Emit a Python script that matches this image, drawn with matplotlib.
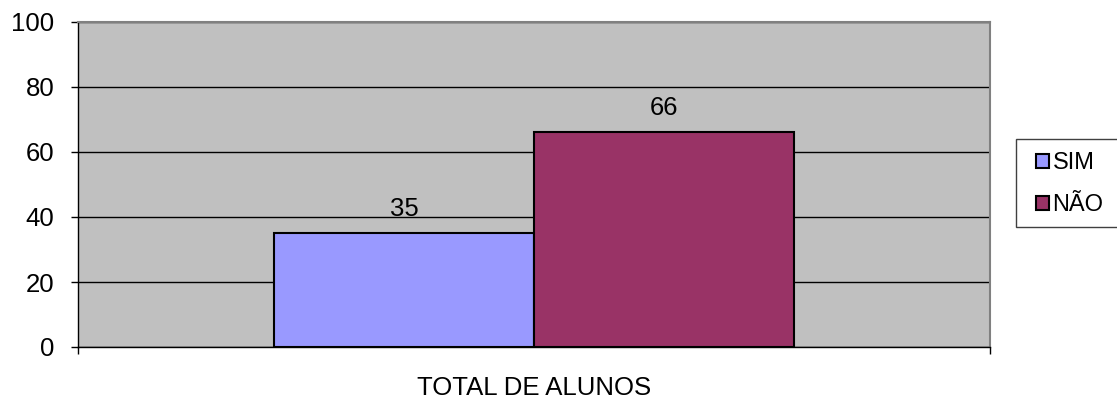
import matplotlib
matplotlib.use("Agg")
import matplotlib.pyplot as plt
from matplotlib.patches import Patch, Rectangle

# data
category = "TOTAL DE ALUNOS"
series = ["SIM", "NÃO"]
values = [35, 66]
colors = ["#9999FF", "#993366"]
yticks = [0, 20, 40, 60, 80, 100]

plt.rcParams["font.family"] = ["Liberation Sans", "DejaVu Sans"]
FS = 18.5
W, H = 1117, 401

fig = plt.figure(figsize=(W / 100, H / 100), dpi=100)
ax = fig.add_axes([78 / W, 54 / H, 912 / W, 325 / H])
ax.set_facecolor("#C0C0C0")

w = 260 / 912
offsets = [-w / 2, w / 2]
for name, v, c, off in zip(series, values, colors, offsets):
    b = ax.bar(off, v, width=w, color=c, edgecolor="black", linewidth=1.5,
               label=name, zorder=3)
    ax.bar_label(b, padding=9, fontsize=FS)

ax.set_xlim(-0.5, 0.5)
ax.set_ylim(0, 100)
ax.set_yticks(yticks)
ax.yaxis.grid(True, color="black", linewidth=1, zorder=1)
ax.set_axisbelow(True)
ax.tick_params(axis="y", direction="out", length=5, width=1, pad=12, labelsize=FS)

ax.set_xticks([0])
ax.set_xticklabels([category])
ax.set_xticks([-0.5, 0.5], minor=True)
ax.tick_params(axis="x", which="major", length=0, pad=21, labelsize=FS)
ax.tick_params(axis="x", which="minor", direction="out", length=5, width=1)

for s in ["top", "right"]:
    ax.spines[s].set_color("#808080")
    ax.spines[s].set_linewidth(1.5)
for s in ["left", "bottom"]:
    ax.spines[s].set_color("black")
    ax.spines[s].set_linewidth(1)

# legend box runs off the right edge of the picture
fig.patches.append(Rectangle((1016 / W, 1 - 227 / H), 130 / W, 88 / H,
                             transform=fig.transFigure, facecolor="white",
                             edgecolor="#404040", linewidth=1))
handles = [Patch(facecolor=c, edgecolor="black", linewidth=1.5) for c in colors]
leg = fig.legend(handles, series, loc="upper left",
                 bbox_to_anchor=(1023 / W, 1 - 139 / H),
                 fontsize=17, frameon=False,
                 handlelength=0.55, handleheight=0.55, handletextpad=0.15,
                 labelspacing=0.85, borderpad=0.55, borderaxespad=0)

fig.savefig("out.png", dpi=100)
